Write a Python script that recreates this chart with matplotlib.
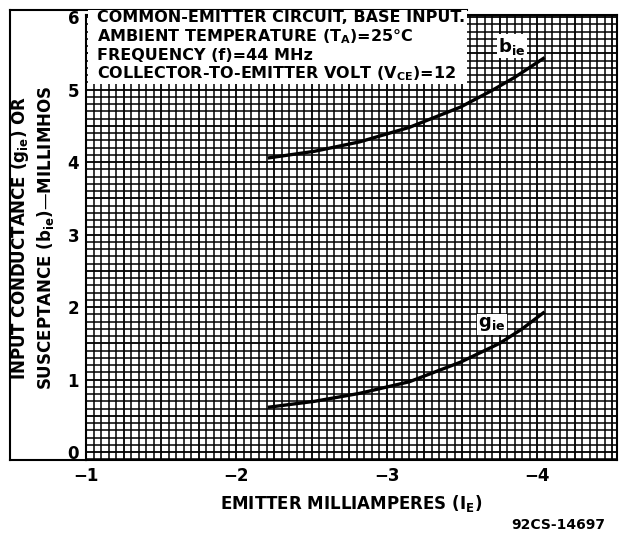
import numpy as np
import matplotlib
matplotlib.use('Agg')
import matplotlib.pyplot as plt
from matplotlib.lines import Line2D

plt.rcParams['font.family'] = 'DejaVu Sans'
plt.rcParams['font.weight'] = 'bold'
plt.rcParams['mathtext.default'] = 'bf'

# Curves (emitter mA, millimhos)
ie_b = [-2.22, -2.52, -2.82, -3.15, -3.49, -3.70, -3.85, -4.04]
bie = [4.06, 4.15, 4.28, 4.48, 4.76, 4.99, 5.17, 5.43]

ie_g = [-2.22, -2.52, -2.82, -3.15, -3.49, -3.75, -3.90, -4.04]
gie = [0.62, 0.70, 0.81, 0.97, 1.24, 1.50, 1.70, 1.92]

x_ticks = [-1, -2, -3, -4]
x_tick_labels = ['\u22121', '\u22122', '\u22123', '\u22124']
y_ticks = [0, 1, 2, 3, 4, 5, 6]

notes = ['COMMON-EMITTER CIRCUIT, BASE INPUT.',
         'AMBIENT TEMPERATURE (T$_A$)=25\u00b0C',
         'FREQUENCY (f)=44 MHz',
         'COLLECTOR-TO-EMITTER VOLT (V$_{CE}$)=12']

W, H = 620, 537
fig = plt.figure(figsize=(W / 100, H / 100), dpi=100)

def fx(px):
    return px / W

def fy(py):
    return 1 - py / H

left, right, top, bottom = 86, 617, 15, 460
ax = fig.add_axes([fx(left), fy(bottom), fx(right - left), (bottom - top) / H])
ax.set_xlim(-1, -4.53)
ax.set_ylim(-0.11, 6.03)

# graph paper
for x in np.arange(-1, -4.55, -0.05):
    heavy = abs(x * 4 - round(x * 4)) < 1e-6
    ax.axvline(x, color='black', lw=1.3 if heavy else 1.1, zorder=1)
for y in np.arange(-0.1, 6.05, 0.1):
    heavy = abs(y * 2 - round(y * 2)) < 1e-6
    ax.axhline(y, color='black', lw=1.3 if heavy else 1.1, zorder=1)

ax.plot(ie_b, bie, color='black', lw=2.4, zorder=3)
ax.plot(ie_g, gie, color='black', lw=2.4, zorder=3)

ax.text(-3.83, 5.6, 'b$_{ie}$', fontsize=13, ha='center', va='center', zorder=4,
        bbox=dict(facecolor='white', edgecolor='none', pad=1))
ax.text(-3.70, 1.76, 'g$_{ie}$', fontsize=13, ha='center', va='center', zorder=4,
        bbox=dict(facecolor='white', edgecolor='none', pad=1))

ax.set_xticks(x_ticks)
ax.set_xticklabels(x_tick_labels, fontsize=12, fontweight='bold')
ax.set_yticks(y_ticks)
ax.set_yticklabels([str(v) for v in y_ticks], fontsize=12, fontweight='bold')
ax.tick_params(length=0, pad=5)
for s in ax.spines.values():
    s.set_linewidth(1.5)

ax.set_xlabel('EMITTER MILLIAMPERES (I$_E$)', fontsize=12, fontweight='bold', labelpad=6)
ax.set_ylabel('INPUT CONDUCTANCE (g$_{ie}$) OR\nSUSCEPTANCE (b$_{ie}$)\u2014MILLIMHOS',
              fontsize=12, fontweight='bold', labelpad=8, linespacing=1.3)

# white note box over the top-left of the grid
fig.patches.append(plt.Rectangle((fx(88), fy(84)), fx(467 - 88), (84 - 10) / H,
                                 transform=fig.transFigure, facecolor='white',
                                 edgecolor='none', zorder=5))
for i, line in enumerate(notes):
    fig.text(fx(97), fy(18 + i * 18.5), line, fontsize=11.5, fontweight='bold',
             va='center', ha='left', zorder=6)

# outer frame
frame = [((10, 10), (10, 460)), ((10, 460), (86, 460)), ((10, 10), (467, 10))]
for (x0, y0), (x1, y1) in frame:
    fig.add_artist(Line2D([fx(x0), fx(x1)], [fy(y0), fy(y1)], color='black', lw=1.5))

fig.text(fx(605), fy(525), '92CS-14697', fontsize=10, fontweight='bold',
         ha='right', va='center')

fig.savefig('out.png', dpi=100)
